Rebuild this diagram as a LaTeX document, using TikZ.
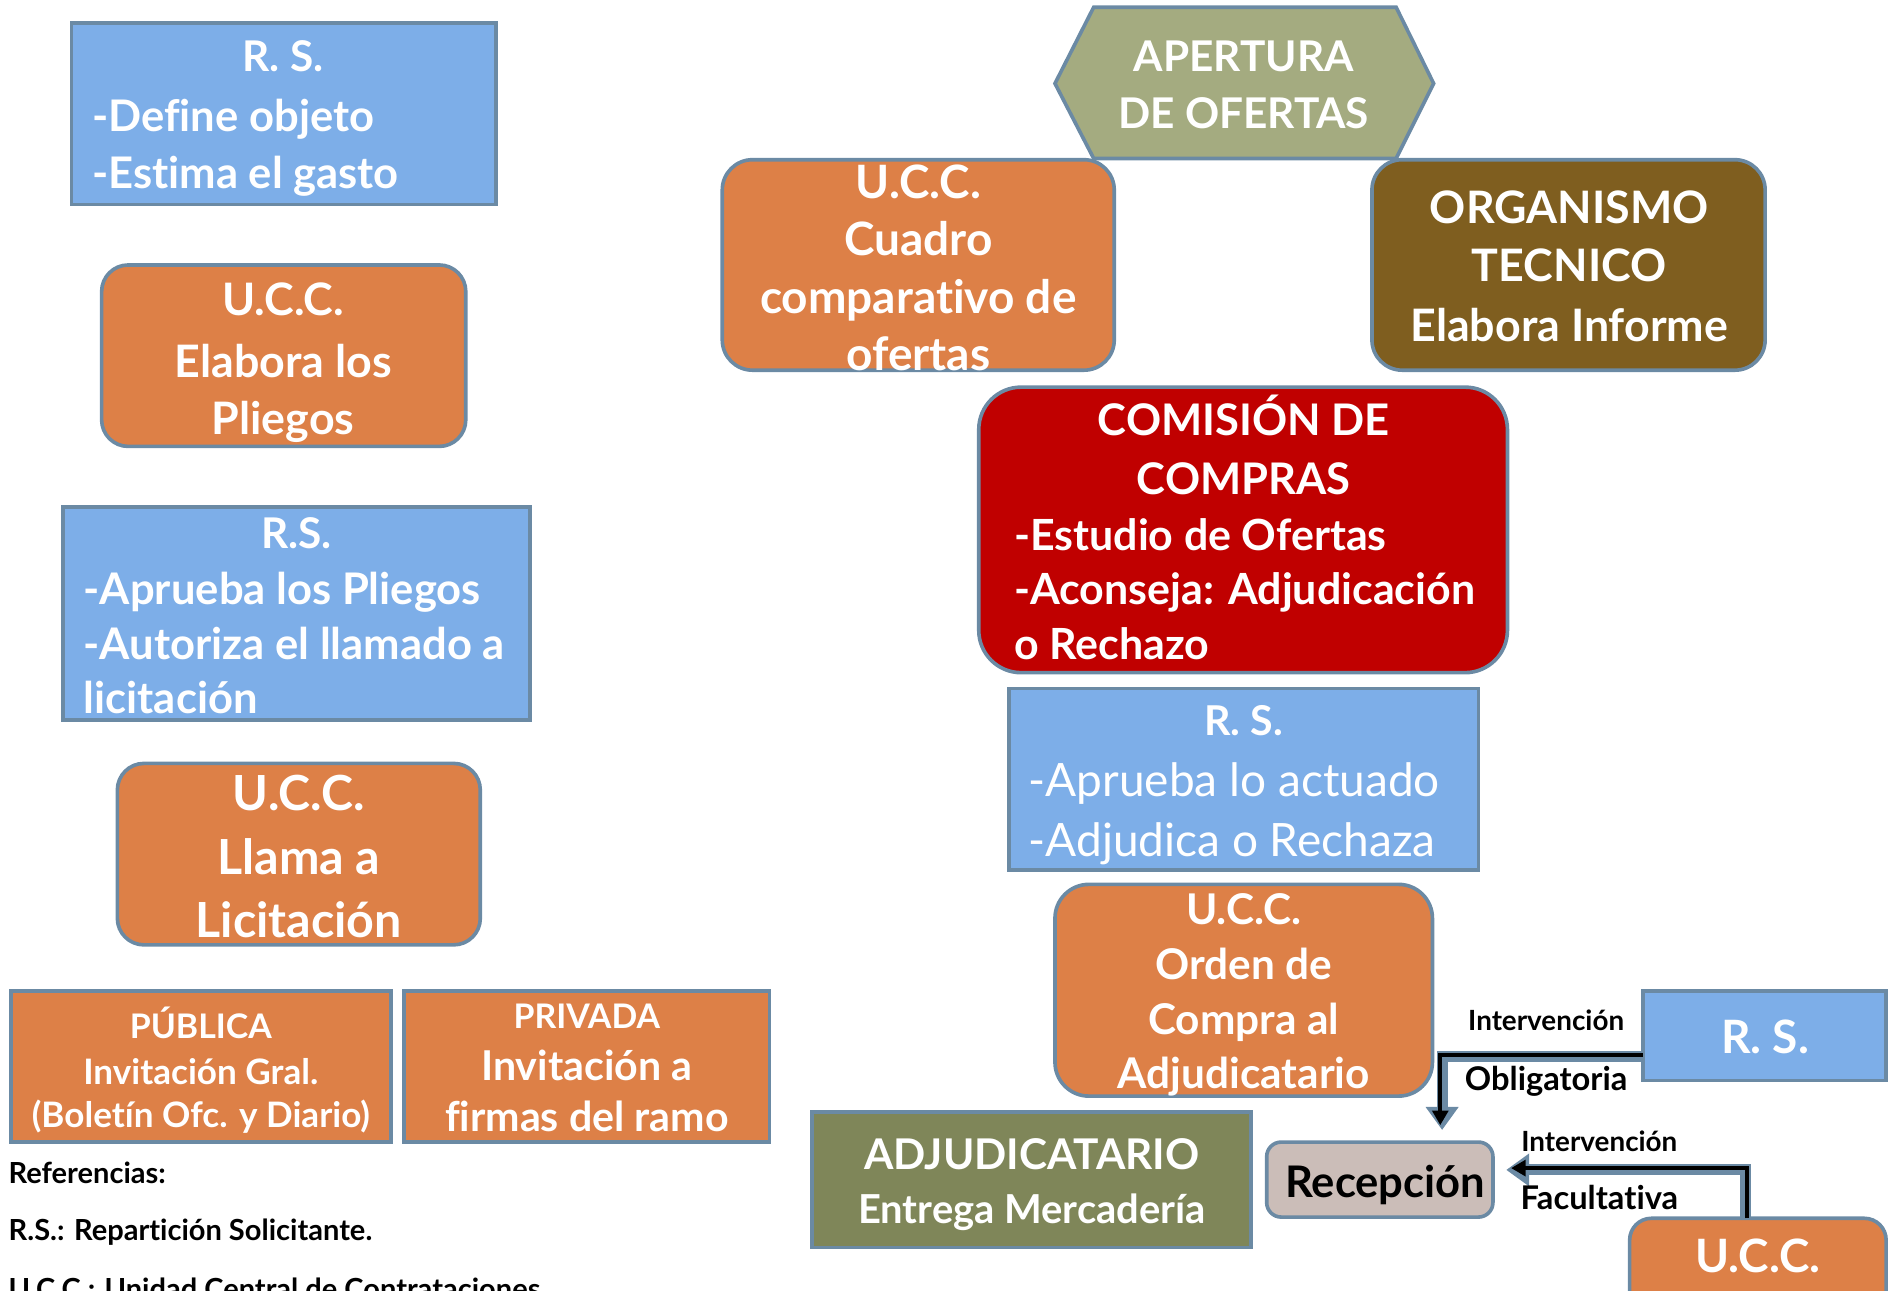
\documentclass[tikz,border=0pt]{standalone}
\usepackage{fontspec}
\setmainfont{Lato}[Ligatures=NoCommon]
\usetikzlibrary{arrows.meta}
\definecolor{cblue}{RGB}{125,174,232}
\definecolor{corange}{RGB}{221,128,71}
\definecolor{cborder}{RGB}{107,138,164}
\definecolor{csage}{RGB}{164,171,128}
\definecolor{cbrown}{RGB}{127,94,31}
\definecolor{cred}{RGB}{192,0,0}
\definecolor{colive}{RGB}{127,134,89}
\definecolor{ctaupe}{RGB}{203,189,184}
\newcommand\myfs[1]{\fontsize{#1}{#1}\selectfont}
\begin{document}
\begin{tikzpicture}[x=1pt,y=-1pt,
  bx/.style={draw=cborder, line width=3pt, inner sep=0pt, outer sep=0pt},
  rbx/.style={bx, rounded corners=#1},
  tc/.style={text=white, inner sep=0pt, anchor=base, font=\bfseries},
  tl/.style={text=white, inner sep=0pt, anchor=base west, font=\bfseries},
  tk/.style={text=black, inner sep=0pt, anchor=base, font=\bfseries},
  tkl/.style={text=black, inner sep=0pt, anchor=base west, font=\bfseries},
  arrout/.style={draw=cborder, line width=9pt, -{Triangle[length=19pt,width=26pt]}},
  arrin/.style={draw=black, line width=3.5pt, shorten >=4pt, -{Triangle[length=12pt,width=13pt]}}
]
\useasboundingbox (0,0) rectangle (1568,1067);
\clip (0,0) rectangle (1568,1067);

% ---------- left column ----------
\node[bx, fill=cblue, minimum width=351, minimum height=150] (rs1) at (234.5,94) {};
\node[tc] (rs1a) at (234,59) {\myfs{35}R. S.};
\node[tl] (rs1b) at (76,109) {\myfs{36}-Define objeto};
\node[tl] (rs1c) at (76,156) {\myfs{36}-Estima el gasto};

\node[rbx=22pt, fill=corange, minimum width=301, minimum height=150] (ucc1) at (234.5,294) {};
\node[tc] (ucc1a) at (234,261) {\myfs{37}U.C.C.};
\node[tc] (ucc1b) at (234,312) {\myfs{37}Elabora los};
\node[tc] (ucc1c) at (234,359) {\myfs{37}Pliegos};

\node[bx, fill=cblue, minimum width=386, minimum height=176] (rs2) at (245,507) {};
\node[tc] (rs2a) at (245,453) {\myfs{35}R.S.};
\node[tl] (rs2b) at (69,500) {\myfs{36}-Aprueba los Pliegos};
\node[tl] (rs2c) at (69,545) {\myfs{36}-Autoriza el llamado a};
\node[tl] (rs2d) at (69,590) {\myfs{36}licitación};

\node[rbx=22pt, fill=corange, minimum width=300, minimum height=150] (ucc2) at (247,706) {};
\node[tc] (ucc2a) at (247,670) {\myfs{40}U.C.C.};
\node[tc] (ucc2b) at (247,723) {\myfs{40}Llama a};
\node[tc] (ucc2c) at (247,775) {\myfs{40}Licitación};

\node[bx, fill=corange, minimum width=314, minimum height=125] (pub) at (166,881.5) {};
\node[tc] (puba) at (166,858) {\myfs{28}PÚBLICA};
\node[tc] (pubb) at (166,896) {\myfs{29}Invitación Gral.};
\node[tc] (pubc) at (166,932) {\myfs{29}(Boletín Ofc. y Diario)};

\node[bx, fill=corange, minimum width=302, minimum height=125] (priv) at (485,881.5) {};
\node[tc] (priva) at (485,850) {\myfs{28}PRIVADA};
\node[tc] (privb) at (485,893) {\myfs{34}Invitación a};
\node[tc] (privc) at (485,935) {\myfs{34}firmas del ramo};

\node[tkl] (ref1) at (7,978) {\myfs{24}Referencias:};
\node[tkl] (ref2) at (7,1025) {\myfs{24}R.S.: Repartición Solicitante.};
\node[tkl] (ref3) at (7,1074) {\myfs{24}U.C.C.: Unidad Central de Contrataciones.};

% ---------- right part ----------
\path[draw=cborder, line width=3pt, fill=csage]
  (872,69) -- (904,6) -- (1154,6) -- (1185,69) -- (1154,131) -- (904,131) -- cycle;
\node[tc] (aper1) at (1028,59) {\myfs{35}APERTURA};
\node[tc] (aper2) at (1028,106) {\myfs{35}DE OFERTAS};

\node[rbx=25pt, fill=corange, minimum width=324, minimum height=174] (cuadro) at (759,219) {};
\node[tc] (cua1) at (759,164) {\myfs{38}U.C.C.};
\node[tc] (cua2) at (759,211) {\myfs{38}Cuadro};
\node[tc] (cua3) at (759,259) {\myfs{38}comparativo de};
\node[tc] (cua4) at (759,306) {\myfs{38}ofertas};

\node[rbx=25pt, fill=cbrown, minimum width=325, minimum height=174] (org) at (1296.5,219) {};
\node[tc] (org1) at (1297,185) {\myfs{37}ORGANISMO};
\node[tc] (org2) at (1297,233) {\myfs{37}TECNICO};
\node[tc] (org3) at (1297,282) {\myfs{37}Elabora Informe};

\node[rbx=35pt, fill=cred, minimum width=437, minimum height=236] (com) at (1027.5,438) {};
\node[tc] (com1) at (1028,360) {\myfs{36}COMISIÓN DE};
\node[tc] (com2) at (1028,409) {\myfs{36}COMPRAS};
\node[tl] (com3) at (838,455) {\myfs{35.5}-Estudio de Ofertas};
\node[tl] (com4) at (838,500) {\myfs{35.5}-Aconseja: Adjudicación};
\node[tl] (com5) at (838,545) {\myfs{35.5}o Rechazo};

\node[bx, fill=cblue, minimum width=388, minimum height=150] (rs3) at (1028,644) {};
\node[tc] (rs3a) at (1028,608) {\myfs{34}R. S.};
\node[tl, font=\mdseries] (rs3b) at (850,658) {\myfs{38}-Aprueba lo actuado};
\node[tl, font=\mdseries] (rs3c) at (850,708) {\myfs{38}-Adjudica o Rechaza};

\node[rbx=28pt, fill=corange, minimum width=312, minimum height=175] (orden) at (1028,818.5) {};
\node[tc] (ord1) at (1028,764) {\myfs{35}U.C.C.};
\node[tc] (ord2) at (1028,810) {\myfs{35}Orden de};
\node[tc] (ord3) at (1028,855) {\myfs{35}Compra al};
\node[tc] (ord4) at (1028,900) {\myfs{35}Adjudicatario};

\node[bx, fill=cblue, minimum width=201, minimum height=74] (rs4) at (1458.5,856) {};
\node[tc] (rs4a) at (1459,871) {\myfs{38}R. S.};

\node[bx, fill=colive, minimum width=363, minimum height=112] (adj) at (852.5,975) {};
\node[tc] (adj1) at (853,967) {\myfs{35}ADJUDICATARIO};
\node[tc] (adj2) at (853,1011) {\myfs{33}Entrega Mercadería};

\node[rbx=12pt, fill=ctaupe, minimum width=187, minimum height=62] (recep) at (1140.5,975) {};
\node[tk] (recep1) at (1145,989.5) {\myfs{36}Recepción};

\node[rbx=18pt, fill=corange, minimum width=212, minimum height=83] (ucc5) at (1453,1048.5) {};
\node[tc] (ucc5a) at (1453,1052) {\myfs{38}U.C.C.};

% ---------- arrows ----------
\coordinate (e1) at (1192,934);
\coordinate (e2) at (1245,967);
\draw[arrout] ([yshift=-17.5pt]rs4.west) -| (e1);
\draw[arrin] ([yshift=-16pt]rs4.west) -| ([xshift=-1.5pt]e1);
\draw[arrout] ([xshift=-10.5pt]ucc5.north) |- (e2);
\draw[arrin] ([xshift=-9pt]ucc5.north) |- ([yshift=1.5pt]e2);

\node[tk] (lab1) at (1278,852) {\myfs{23}Intervención};
\node[tk] (lab2) at (1278,901) {\myfs{27}Obligatoria};
\node[tk] (lab3) at (1322,952) {\myfs{23}Intervención};
\node[tk] (lab4) at (1322,1000) {\myfs{27}Facultativa};
\end{tikzpicture}
\end{document}
